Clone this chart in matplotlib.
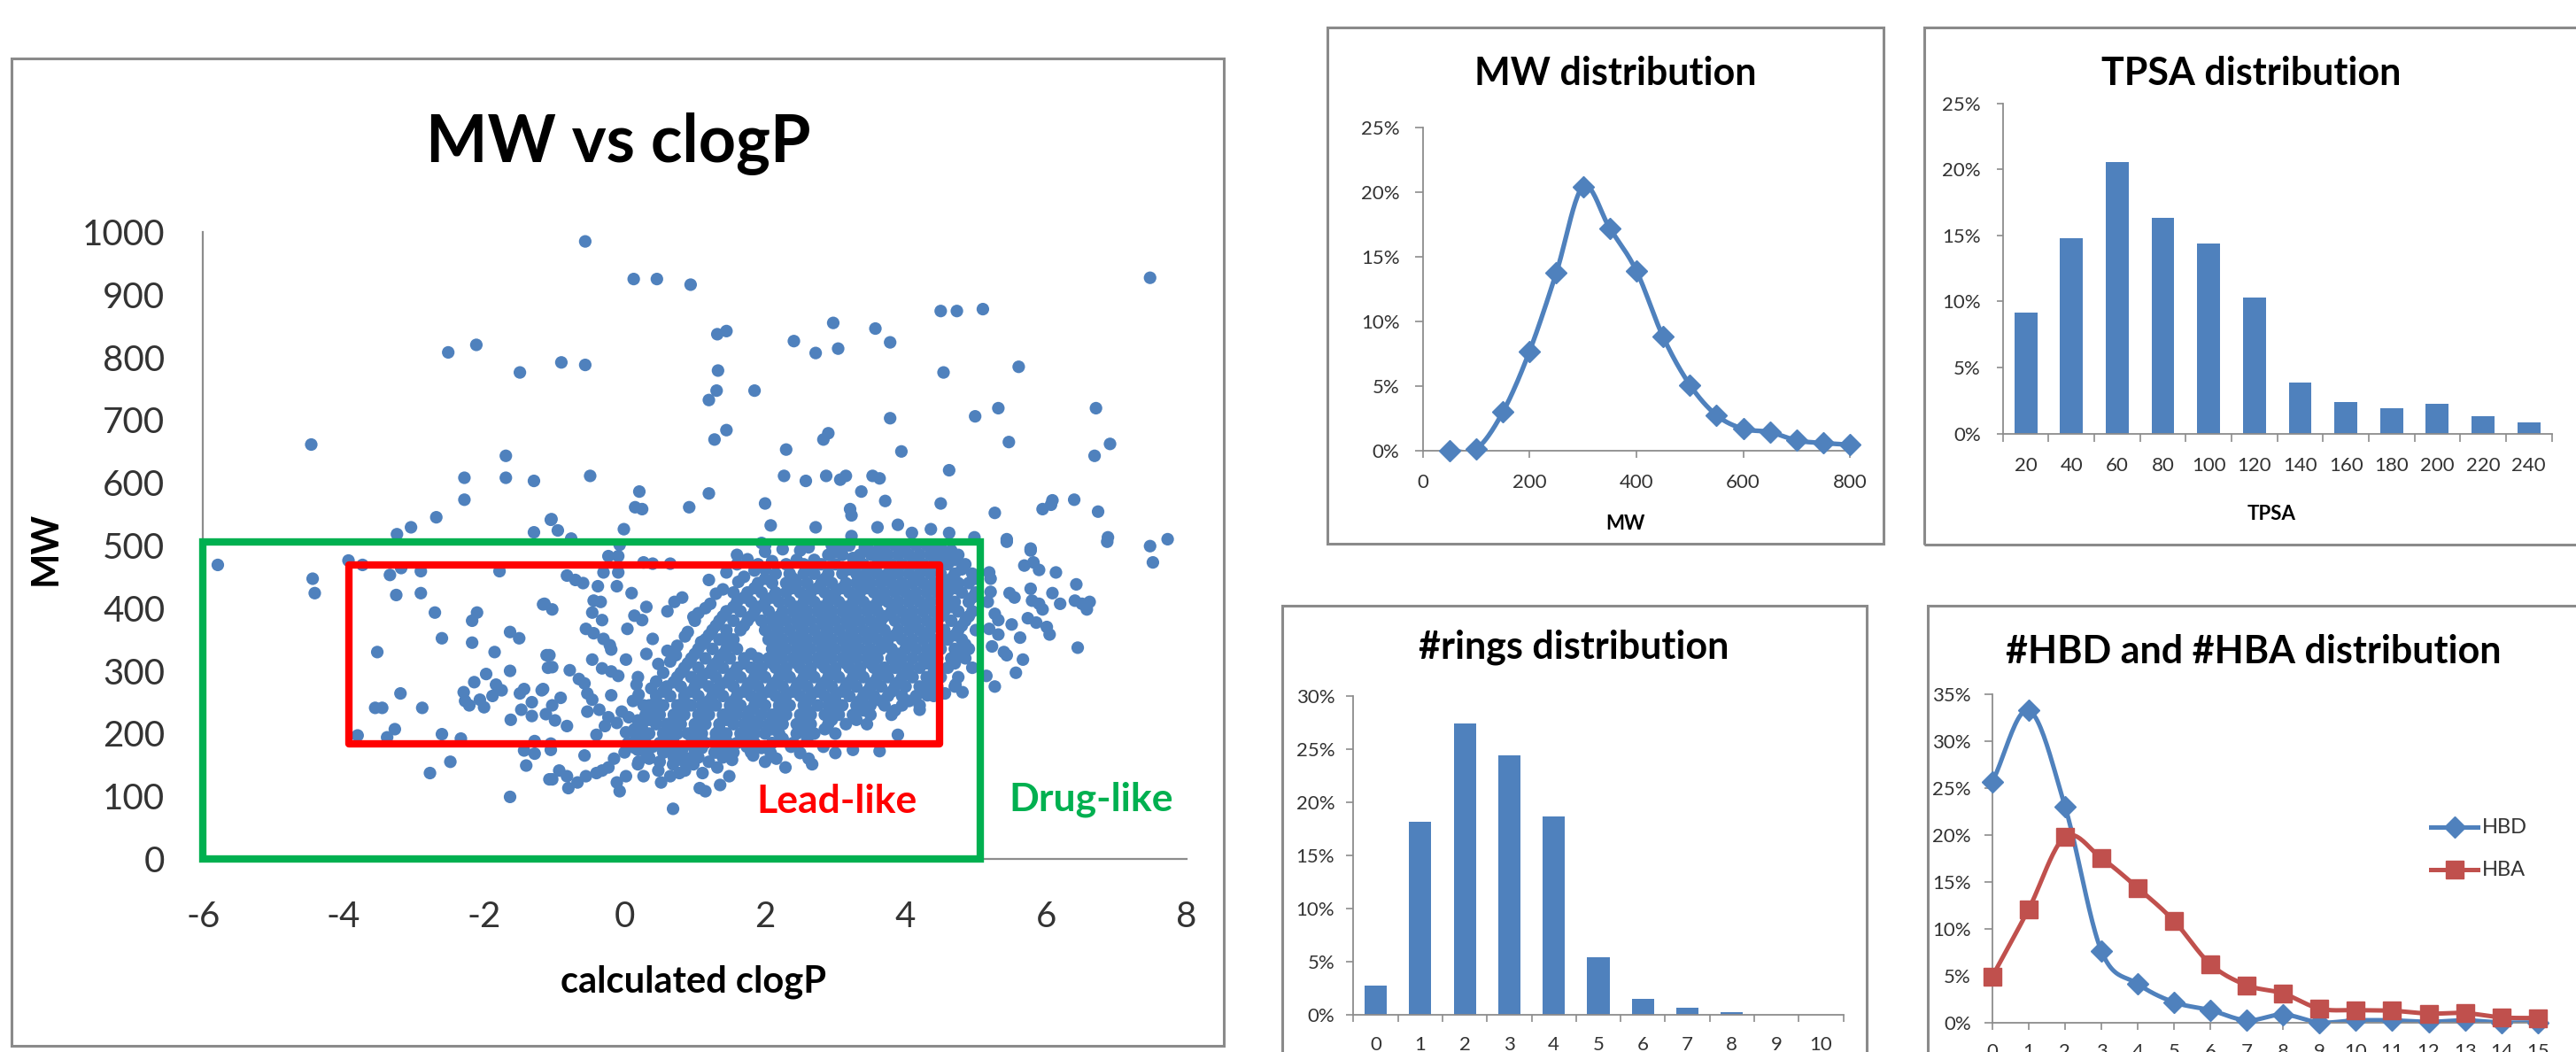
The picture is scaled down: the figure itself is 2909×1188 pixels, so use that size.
import numpy as np
import matplotlib
matplotlib.use('Agg')
import matplotlib.pyplot as plt
from matplotlib.patches import Rectangle
from matplotlib.lines import Line2D

plt.rcParams['font.family'] = ['Lato', 'DejaVu Sans']

# ------------------------------------------------------------------ data
mw_bins = [50, 100, 150, 200, 250, 300, 350, 400, 450, 500, 550, 600, 650, 700, 750, 800]
mw_pct = [0.0, 0.13, 3.0, 7.7, 13.75, 20.4, 17.2, 13.9, 8.8, 5.1, 2.75, 1.7, 1.45, 0.8, 0.6, 0.47]

tpsa_labels = ['20', '40', '60', '80', '100', '120', '140', '160', '180', '200', '220', '240']
tpsa_pct = [9.16, 14.76, 20.59, 16.32, 14.42, 10.32, 3.85, 2.39, 1.9, 2.23, 1.33, 0.82]

ring_labels = ['0', '1', '2', '3', '4', '5', '6', '7', '8', '9', '10']
ring_pct = [2.75, 18.15, 27.44, 24.46, 18.7, 5.45, 1.46, 0.63, 0.22, 0.0, 0.0]

hb_labels = ['0', '1', '2', '3', '4', '5', '6', '7', '8', '9', '10', '11', '12', '13', '14', '15']
hbd_pct = [25.64, 33.28, 23.05, 7.64, 4.12, 2.15, 1.31, 0.22, 0.84, 0.0, 0.22, 0.22, 0.06, 0.22, 0.0, 0.0]
hba_pct = [4.9, 12.07, 19.78, 17.53, 14.35, 10.82, 6.21, 3.96, 3.09, 1.47, 1.31, 1.25, 0.94, 1.0, 0.53, 0.47]

# scatter: (clogP, MW) pairs
high_mw_pts = [
    (-2.51, 808), (-2.11, 820), (-1.49, 776), (-4.46, 661), (-1.69, 643), (-2.28, 608), (-1.69, 608),
    (-1.29, 603), (-2.28, 573), (-2.68, 545), (-3.04, 529), (-3.24, 518), (-1.29, 521), (-1.05, 541),
    (-0.56, 985), (0.13, 925), (0.46, 925), (0.94, 916), (2.97, 855), (3.57, 846), (1.45, 842),
    (1.32, 837), (2.41, 826), (3.78, 824), (3.04, 814), (2.72, 807), (-0.9, 792), (-0.56, 788),
    (1.33, 779), (1.31, 747), (1.85, 747), (1.2, 732), (3.78, 703), (1.45, 684), (1.28, 669),
    (2.9, 679), (2.83, 669), (2.3, 653), (-0.49, 611), (2.27, 611), (2.58, 603), (2.87, 611),
    (3.07, 605), (3.15, 611), (3.53, 611), (3.63, 607), (3.37, 586), (3.71, 571), (0.21, 586),
    (0.15, 561), (0.25, 558), (0.92, 561), (1.2, 583), (2.0, 567), (3.21, 558), (3.23, 548),
    (-1.04, 542), (-0.95, 524), (-0.01, 526), (2.08, 532), (2.72, 529), (3.6, 529), (-0.76, 511),
    (3.23, 515), (7.48, 927), (4.5, 874), (4.73, 874), (5.1, 877), (4.54, 776), (5.61, 785),
    (5.32, 719), (4.99, 706), (6.71, 719), (5.47, 665), (6.91, 662), (6.69, 643), (3.94, 650),
    (4.62, 620), (4.5, 567), (5.27, 552), (5.95, 558), (6.07, 565), (6.09, 572), (6.4, 573),
    (6.74, 554), (3.89, 533), (4.09, 520), (4.36, 526), (4.62, 520), (5.44, 510), (6.88, 513),
    (7.73, 510), (7.48, 499), (5.78, 495), (4.98, 513),
]

left_pts = [
    (-5.79, 469), (-4.44, 447), (-4.41, 424), (-3.93, 476), (-3.73, 469), (-3.34, 453), (-3.18, 464),
    (-2.9, 459), (-1.78, 459), (-3.25, 421), (-2.9, 424), (-2.7, 393), (-2.1, 393), (-2.17, 380),
    (-2.6, 352), (-2.17, 345), (-1.63, 362), (-1.5, 352), (-1.85, 330), (-3.52, 330), (-1.16, 406),
    (-1.63, 300), (-1.97, 295), (-2.14, 282), (-1.83, 278), (-1.75, 269), (-2.29, 266), (-2.27, 252),
    (-2.21, 245), (-2.06, 254), (-2.0, 242), (-1.88, 260), (-3.19, 264), (-3.55, 241), (-3.45, 241),
    (-2.88, 241), (-1.49, 264), (-1.43, 271), (-1.18, 269), (-1.32, 250), (-1.47, 238), (-1.62, 222),
    (-1.32, 228), (-1.11, 325), (-1.09, 305), (-3.27, 207), (-3.38, 194), (-3.8, 197), (-2.6, 199),
    (-2.33, 192), (-1.28, 188), (-1.43, 173), (-1.28, 168), (-1.4, 149), (-2.48, 155), (-2.77, 137),
    (-1.63, 99), (-1.07, 127),
]

middle_pts = [
    (-0.82, 452), (-0.70, 445), (-0.59, 440), (-1.14, 407), (-1.03, 398), (-0.38, 435), (-0.44, 412),
    (-0.34, 410), (-0.46, 393), (-0.32, 381), (-0.23, 483), (-0.09, 483), (-0.30, 457), (-0.09, 457),
    (-0.11, 435), (0.10, 424), (-0.55, 367), (-0.44, 360), (-0.30, 351), (-0.21, 341), (-0.19, 334),
    (0.04, 367), (0.14, 388), (0.25, 381), (0.31, 402), (-1.07, 325), (-1.03, 306), (-0.46, 318),
    (-0.32, 304), (-0.19, 299), (-0.09, 292), (0.02, 318), (0.19, 290), (0.17, 278), (-0.78, 301),
    (-0.65, 287), (-0.57, 280), (-1.16, 271), (-1.03, 245), (-1.12, 231), (-0.99, 221), (-0.91, 257),
    (-0.53, 264), (-0.46, 254), (-0.53, 235), (-0.36, 238), (-0.19, 261), (-0.82, 212), (-0.40, 198),
    (-0.28, 212), (-0.23, 226), (-0.11, 217), (-0.04, 235), (0.06, 226), (0.19, 221), (0.14, 207),
    (0.02, 202), (0.27, 245), (-1.05, 184), (-1.05, 174), (-0.93, 141), (-1.03, 127), (-0.82, 132),
    (-0.80, 113), (-0.67, 122), (-0.55, 132), (-0.40, 137), (-0.32, 141), (-0.23, 146), (-0.15, 160),
    (-0.57, 165), (-0.11, 122), (-0.07, 108), (0.02, 132), (0.19, 151), (0.27, 132), (0.35, 160),
    (0.48, 141), (0.52, 122), (0.65, 132), (0.69, 151), (0.78, 137), (0.86, 141), (0.90, 160),
    (0.98, 151), (0.06, 179), (0.19, 174), (0.40, 179), (0.56, 170), (0.69, 184), (0.82, 174),
    (0.98, 179), (1.11, 184), (1.28, 170), (1.41, 170), (1.49, 184), (1.53, 158), (1.32, 146),
    (1.36, 118), (1.49, 132), (1.11, 137), (1.07, 113), (1.15, 108), (0.69, 80), (1.74, 179),
    (1.83, 165), (2.0, 155), (2.08, 169), (2.16, 160), (2.29, 146), (2.37, 179), (2.5, 169),
    (2.62, 160), (2.67, 151), (2.83, 179), (3.0, 169), (3.25, 174), (3.63, 172),
    (0.27, 473), (0.40, 471), (0.65, 471), (2.25, 494), (2.62, 497), (3.0, 490), (3.13, 499),
    (3.42, 497), (3.67, 490), (3.25, 480), (1.95, 504), (-0.07, 501), (2.92, 485), (3.51, 485),
    (1.6, 470), (1.85, 460), (2.1, 475), (1.45, 457), (1.70, 450), (1.2, 445), (0.82, 417),
    (0.71, 410), (0.61, 395), (0.98, 386), (1.22, 407), (0.86, 355), (1.09, 346), (0.40, 351),
    (0.31, 327), (0.61, 332), (0.73, 325), (0.48, 311), (0.65, 315),
]

# loose points along the upper-left edge of the dense core
edge_pts = [
    (1.0, 380), (1.15, 400), (1.4, 430), (1.75, 478), (0.55, 297), (0.45, 283), (0.9, 362),
    (1.3, 423), (1.62, 442), (0.12, 252), (0.38, 272), (2.0, 490), (0.75, 340), (1.05, 392),
    (0.2, 262), (1.55, 425), (1.9, 470),
]

right_pts = [
    (5.78, 492), (5.69, 468), (5.82, 473), (5.90, 461), (6.14, 457), (5.48, 424), (5.55, 417),
    (5.78, 431), (5.80, 412), (5.90, 407), (6.09, 424), (6.20, 407), (6.43, 438), (6.41, 412),
    (6.51, 407), (6.62, 410), (6.58, 398), (5.95, 398), (5.74, 384), (5.86, 377), (6.01, 370),
    (6.05, 358), (5.51, 374), (5.63, 353), (5.27, 391), (5.32, 381), (5.19, 367), (5.32, 358),
    (5.23, 339), (5.40, 330), (5.44, 325), (5.67, 318), (5.57, 297), (5.27, 275), (6.45, 337),
    (5.19, 457), (5.21, 447), (5.21, 426), (5.17, 410), (5.15, 292), (7.52, 473), (6.87, 506),
    (5.44, 506), (4.2, 238), (3.89, 198), (4.31, 261), (4.81, 266), (4.71, 278), (4.56, 264),
]

# dense core: MW row -> clogP values read along that row
core_rows = {
    500: [2.0, 2.95, 3.2, 3.45, 3.7, 3.85, 4.0, 4.15, 4.3, 4.5],
    485: [1.6, 2.9, 3.1, 3.35, 3.55, 3.75, 3.9, 4.05, 4.2, 4.35, 4.55, 4.75],
    470: [2.3, 2.55, 2.8, 3.0, 3.25, 3.4, 3.6, 3.8, 3.95, 4.1, 4.25, 4.4, 4.6, 4.85],
    455: [2.15, 2.35, 2.55, 2.7, 2.9, 3.1, 3.3, 3.45, 3.6, 3.75, 3.9, 4.05, 4.2, 4.35, 4.5, 4.7, 4.95],
    440: [1.9, 2.1, 2.3, 2.45, 2.6, 2.8, 2.95, 3.15, 3.3, 3.5, 3.65, 3.8, 3.95, 4.1, 4.25, 4.4, 4.55, 4.75, 4.9],
    425: [1.75, 1.95, 2.15, 2.3, 2.5, 2.65, 2.85, 3.0, 3.2, 3.35, 3.55, 3.7, 3.85, 4.0, 4.15, 4.3, 4.45, 4.6, 4.8, 5.0],
    410: [1.6, 1.8, 2.0, 2.2, 2.35, 2.55, 2.7, 2.9, 3.05, 3.25, 3.4, 3.6, 3.75, 3.9, 4.05, 4.2, 4.35, 4.5, 4.7, 4.9],
    395: [1.45, 1.65, 1.85, 2.05, 2.25, 2.4, 2.6, 2.75, 2.95, 3.1, 3.3, 3.45, 3.6, 3.8, 3.95, 4.1, 4.25, 4.4, 4.55, 4.75, 4.95],
    380: [1.35, 1.55, 1.75, 1.95, 2.1, 2.3, 2.45, 2.65, 2.8, 3.0, 3.15, 3.35, 3.5, 3.65, 3.85, 4.0, 4.15, 4.3, 4.45, 4.65, 4.85],
    365: [1.25, 1.45, 1.65, 2.0, 2.2, 2.35, 2.55, 2.7, 2.9, 3.05, 3.25, 3.4, 3.55, 3.7, 3.9, 4.05, 4.2, 4.35, 4.55, 4.75, 5.0],
    350: [1.15, 1.35, 1.55, 2.05, 2.25, 2.4, 2.6, 2.75, 2.95, 3.1, 3.3, 3.45, 3.6, 3.75, 3.95, 4.1, 4.25, 4.4, 4.6, 4.8],
    335: [1.05, 1.25, 1.45, 1.6, 2.1, 2.3, 2.45, 2.65, 2.8, 3.0, 3.15, 3.35, 3.5, 3.65, 3.8, 4.0, 4.15, 4.3, 4.5, 4.7, 4.9],
    320: [0.95, 1.15, 1.35, 1.5, 1.7, 1.9, 2.05, 2.25, 2.4, 2.6, 2.75, 2.95, 3.1, 3.3, 3.45, 3.6, 3.8, 3.95, 4.1, 4.25, 4.45, 4.65, 4.85],
    305: [0.85, 1.05, 1.25, 1.4, 1.6, 1.8, 1.95, 2.15, 2.3, 2.5, 2.65, 2.85, 3.0, 3.2, 3.35, 3.55, 3.7, 3.85, 4.05, 4.2, 4.4, 4.6, 4.95],
    290: [0.75, 0.95, 1.1, 1.3, 1.5, 1.65, 1.85, 2.0, 2.2, 2.35, 2.55, 2.7, 2.9, 3.05, 3.25, 3.4, 3.6, 3.75, 3.95, 4.1, 4.3, 4.5, 4.75],
    275: [0.6, 0.8, 1.0, 1.2, 1.35, 1.55, 1.75, 1.9, 2.1, 2.25, 2.45, 2.6, 2.8, 2.95, 3.15, 3.3, 3.5, 3.65, 3.85, 4.0, 4.2, 4.45, 4.7],
    260: [0.45, 0.65, 0.85, 1.05, 1.25, 1.4, 1.6, 1.8, 1.95, 2.15, 2.3, 2.5, 2.65, 2.85, 3.0, 3.2, 3.4, 3.55, 3.75, 3.95, 4.15, 4.4],
    245: [0.35, 0.55, 0.75, 0.95, 1.1, 1.3, 1.5, 1.65, 1.85, 2.0, 2.2, 2.35, 2.55, 2.75, 2.9, 3.1, 3.3, 3.5, 3.7, 3.95, 4.2],
    230: [0.3, 0.5, 0.7, 0.85, 1.05, 1.2, 1.4, 1.6, 1.75, 1.95, 2.1, 2.3, 2.5, 2.65, 2.85, 3.05, 3.25, 3.5, 3.8],
    215: [0.25, 0.45, 0.6, 0.8, 1.0, 1.15, 1.35, 1.55, 1.7, 1.9, 2.05, 2.25, 2.45, 2.65, 2.9, 3.15, 3.45],
    200: [0.15, 0.35, 0.55, 0.75, 0.9, 1.1, 1.3, 1.45, 1.65, 1.85, 2.0, 2.2, 2.45, 2.7, 3.0],
    185: [0.05, 0.3, 0.5, 0.7, 0.95, 1.15, 1.4, 1.6, 1.85, 2.1, 2.4],
    170: [0.0, 0.3, 0.55, 0.8, 1.0, 1.3, 1.55, 1.8],
    155: [0.2, 0.5, 0.85, 1.2],
}

# dense core, in-between rows
core_rows_mid = {
    492: [2.5, 3.05, 3.6, 3.95, 4.4, 4.65],
    477: [2.45, 2.7, 3.3, 3.7, 4.15, 4.5, 4.7],
    462: [2.0, 2.6, 3.2, 3.55, 3.85, 4.3, 4.8],
    447: [2.0, 2.4, 2.85, 3.4, 3.75, 4.15, 4.65, 5.0],
    432: [1.85, 2.4, 2.75, 3.1, 3.45, 3.95, 4.35, 4.7],
    417: [1.7, 2.1, 2.6, 2.95, 3.3, 3.65, 4.1, 4.55, 4.95],
    402: [1.55, 1.9, 2.45, 2.8, 3.15, 3.5, 3.85, 4.3, 4.65],
    387: [1.4, 1.8, 2.2, 2.55, 2.9, 3.25, 3.7, 4.05, 4.5, 4.9],
    372: [1.3, 1.7, 2.15, 2.5, 2.85, 3.2, 3.6, 4.1, 4.4, 4.8],
    357: [1.2, 1.45, 2.15, 2.5, 2.85, 3.2, 3.5, 3.85, 4.3, 4.7],
    342: [1.1, 1.5, 2.2, 2.55, 2.9, 3.25, 3.7, 4.05, 4.45, 4.85],
    327: [1.0, 1.4, 1.8, 2.15, 2.5, 2.9, 3.25, 3.55, 3.9, 4.35, 4.75],
    312: [0.9, 1.3, 1.7, 2.1, 2.45, 2.8, 3.15, 3.5, 3.9, 4.3, 4.7],
    297: [0.8, 1.2, 1.55, 1.9, 2.3, 2.65, 3.0, 3.35, 3.7, 4.0, 4.4],
    282: [0.7, 1.1, 1.45, 1.8, 2.15, 2.5, 2.85, 3.2, 3.55, 3.9, 4.35],
    267: [0.55, 0.95, 1.3, 1.7, 2.05, 2.4, 2.75, 3.1, 3.45, 3.8, 4.3],
    252: [0.45, 0.85, 1.2, 1.55, 1.9, 2.25, 2.6, 3.0, 3.35, 3.65, 4.05],
    237: [0.4, 0.8, 1.15, 1.5, 1.8, 2.2, 2.6, 2.95, 3.4, 3.85],
    222: [0.35, 0.7, 1.1, 1.45, 1.8, 2.15, 2.55, 2.95, 3.3],
    207: [0.25, 0.65, 1.0, 1.35, 1.75, 2.1, 2.55, 2.85],
    192: [0.2, 0.6, 1.0, 1.3, 1.75, 2.25, 2.6],
    177: [0.15, 0.65, 1.1, 1.45, 1.95],
    162: [0.35, 0.7, 1.05, 1.4],
}

drug_box = (-6.0, 0.0, 5.06, 505.0)      # clogP min, MW min, clogP max, MW max
lead_box = (-3.93, 183.0, 4.48, 468.5)

# ------------------------------------------------------------------ styles
BLUE = '#4F81BD'
RED = '#C0504D'
AXC = '#8C8C8C'
TXT = '#333333'
W, H = 2909, 1188
TICK_FS = 16

fig = plt.figure(figsize=(W / 100, H / 100), dpi=100)
fig.patch.set_facecolor('white')


def px_axes(L, T, R, B):
    return fig.add_axes([L / W, 1 - B / H, (R - L) / W, (B - T) / H])


def frame(L, T, R, B):
    fig.add_artist(Rectangle((L / W, 1 - B / H), (R - L) / W, (B - T) / H,
                             transform=fig.transFigure, fill=False, ec='#8A8A8A', lw=2.2))


def ftext(x, y, s, **kw):
    fig.text(x / W, 1 - y / H, s, **kw)


def style_axes(ax):
    for sp in ('top', 'right'):
        ax.spines[sp].set_visible(False)
    for sp in ('left', 'bottom'):
        ax.spines[sp].set_color(AXC)
        ax.spines[sp].set_linewidth(1.3)
    ax.set_facecolor('none')


def smooth(x, y, n=24):
    pts = np.column_stack([np.asarray(x, float), np.asarray(y, float)])
    P = np.vstack([2 * pts[0] - pts[1], pts, 2 * pts[-1] - pts[-2]])
    out = []
    t = np.linspace(0, 1, n, endpoint=False)[:, None]
    for i in range(1, len(P) - 2):
        p0, p1, p2, p3 = P[i - 1], P[i], P[i + 1], P[i + 2]
        seg = 0.5 * (2 * p1 + (-p0 + p2) * t + (2 * p0 - 5 * p1 + 4 * p2 - p3) * t ** 2
                     + (-p0 + 3 * p1 - 3 * p2 + p3) * t ** 3)
        out.append(seg)
    out.append(pts[-1:])
    s = np.vstack(out)
    return s[:, 0], s[:, 1]


def pct_yaxis(ax, top, pad_pt, tick_px):
    ax.set_ylim(0, top)
    ticks = list(range(0, top + 1, 5))
    ax.set_yticks(ticks)
    ax.set_yticklabels([f'{v}%' for v in ticks])
    ax.tick_params(axis='y', direction='out', length=tick_px * 0.72, width=1.2, color=AXC,
                   pad=pad_pt, labelsize=TICK_FS, labelcolor=TXT)


# ------------------------------------------------------------------ frames
frame(13.4, 66, 1382, 1180.6)
frame(1498.7, 30.7, 2127.3, 614.3)
frame(2173.4, 30.7, 2960, 615)
frame(1448, 684.3, 2108.3, 1240)
frame(2176.7, 683.9, 2960, 1240)

# ------------------------------------------------------------------ scatter
ax = px_axes(229.3, 262, 1340, 970)
style_axes(ax)
ax.spines['left'].set_linewidth(1.6)
ax.spines['bottom'].set_linewidth(1.6)
pts = high_mw_pts + left_pts + middle_pts + edge_pts + right_pts
for rows in (core_rows, core_rows_mid):
    for mw_val, xs in rows.items():
        pts += [(xv, mw_val) for xv in xs]
pts = np.array(pts)
ax.scatter(pts[:, 0], pts[:, 1], s=105, color=BLUE, edgecolors='none', zorder=2, clip_on=False)
ax.set_xlim(-6, 8)
ax.set_ylim(0, 1000)
ax.set_xticks([-6, -4, -2, 0, 2, 4, 6, 8])
ax.set_xticklabels(['-6', '-4', '-2', '0', '2', '4', '6', '8'])
ax.set_yticks(list(range(0, 1001, 100)))
ax.tick_params(axis='both', length=0, labelsize=29, labelcolor=TXT)
ax.tick_params(axis='y', pad=31)
ax.tick_params(axis='x', pad=34)
ax.add_patch(Rectangle((drug_box[0], drug_box[1]), drug_box[2] - drug_box[0], drug_box[3] - drug_box[1],
                       fill=False, ec='#00B050', lw=6, zorder=4, clip_on=False, joinstyle='miter'))
ax.add_patch(Rectangle((lead_box[0], lead_box[1]), lead_box[2] - lead_box[0], lead_box[3] - lead_box[1],
                       fill=False, ec='#FF0000', lw=6, zorder=5, clip_on=False, joinstyle='round'))
ax.text(3.02, 73, 'Lead-like', color='#FF0000', fontsize=32, fontweight='bold', ha='center',
        va='baseline', zorder=6)
ax.text(6.64, 77, 'Drug-like', color='#00B050', fontsize=32, fontweight='bold', ha='center',
        va='baseline', zorder=6, clip_on=False)
ftext(697.8, 182.8, 'MW vs clogP', fontsize=53, fontweight='bold', ha='center', va='baseline', color='black')
ftext(783, 1120, 'calculated clogP', fontsize=30, fontweight='bold', ha='center', va='baseline', color='black')
ftext(51.8, 619.7, 'MW', fontsize=30, fontweight='bold', ha='center', va='center', rotation=90, color='black')

# ------------------------------------------------------------------ MW distribution
ax1 = px_axes(1606.7, 143.6, 2089.2, 509.1)
style_axes(ax1)
sx, sy = smooth(mw_bins, mw_pct)
ax1.plot(sx, sy, color=BLUE, lw=3.8, zorder=2, solid_capstyle='round')
ax1.plot(mw_bins, mw_pct, ls='none', marker='D', ms=12, color=BLUE, zorder=3, clip_on=False)
ax1.set_xlim(0, 800)
ax1.set_xticks([0, 200, 400, 600, 800])
ax1.tick_params(axis='x', direction='out', length=7.6 * 0.72, width=1.2, color=AXC, pad=13,
                labelsize=TICK_FS, labelcolor=TXT)
pct_yaxis(ax1, 25, 12.5, 9)
ftext(1823.9, 96.5, 'MW distribution', fontsize=31, fontweight='bold', ha='center', va='baseline')
ftext(1835.8, 598, 'MW', fontsize=16, fontweight='bold', ha='center', va='baseline')

# ------------------------------------------------------------------ TPSA distribution
ax2 = px_axes(2261.8, 116.8, 2881.5, 489.6)
style_axes(ax2)
xpos = np.arange(len(tpsa_labels))
ax2.bar(xpos, tpsa_pct, width=0.5, color=BLUE, zorder=2)
ax2.set_xlim(-0.5, len(tpsa_labels) - 0.5)
ax2.set_xticks(xpos)
ax2.set_xticklabels(tpsa_labels)
ax2.set_xticks(np.arange(len(tpsa_labels) + 1) - 0.5, minor=True)
ax2.tick_params(axis='x', which='major', length=0, pad=19, labelsize=TICK_FS, labelcolor=TXT)
ax2.tick_params(axis='x', which='minor', direction='out', length=8.8 * 0.72, width=1.2, color=AXC)
pct_yaxis(ax2, 25, 13, 7)
ftext(2542, 96.5, 'TPSA distribution', fontsize=31, fontweight='bold', ha='center', va='baseline')
ftext(2565, 587, 'TPSA', fontsize=16, fontweight='bold', ha='center', va='baseline')

# ------------------------------------------------------------------ rings distribution
ax3 = px_axes(1528.4, 786.3, 2081.5, 1146)
style_axes(ax3)
rpos = np.arange(len(ring_labels))
ax3.bar(rpos, ring_pct, width=0.5, color=BLUE, zorder=2)
ax3.set_xlim(-0.5, len(ring_labels) - 0.5)
ax3.set_xticks(rpos)
ax3.set_xticklabels(ring_labels)
ax3.set_xticks(np.arange(len(ring_labels) + 1) - 0.5, minor=True)
ax3.tick_params(axis='x', which='major', length=0, pad=17, labelsize=TICK_FS, labelcolor=TXT)
ax3.tick_params(axis='x', which='minor', direction='out', length=8 * 0.72, width=1.2, color=AXC)
pct_yaxis(ax3, 30, 9.5, 8)
ftext(1777.5, 743.3, '#rings distribution', fontsize=31, fontweight='bold', ha='center', va='baseline')

# ------------------------------------------------------------------ HBD / HBA distribution
ax4 = px_axes(2249.8, 784, 2865.7, 1154.6)
style_axes(ax4)
hpos = np.arange(len(hb_labels))
bx, by = smooth(hpos, hbd_pct)
ax4.plot(bx, by, color=BLUE, lw=3.6, zorder=2)
ax4.plot(hpos, hbd_pct, ls='none', marker='D', ms=12, color=BLUE, zorder=3, clip_on=False)
ax_, ay_ = smooth(hpos, hba_pct)
ax4.plot(ax_, ay_, color=RED, lw=3.6, zorder=4)
ax4.plot(hpos, hba_pct, ls='none', marker='s', ms=14, color=RED, zorder=5, clip_on=False)
ax4.set_xlim(0, len(hb_labels) - 1)
ax4.set_xticks(hpos)
ax4.set_xticklabels(hb_labels)
ax4.tick_params(axis='x', direction='out', length=8.3 * 0.72, width=1.2, color=AXC, pad=11,
                labelsize=TICK_FS, labelcolor=TXT)
pct_yaxis(ax4, 35, 11, 8.6)
ftext(2544.6, 749.3, '#HBD and #HBA distribution', fontsize=31, fontweight='bold', ha='center', va='baseline')

# legend (drawn in figure pixels)
for (yc, col, mk, ms, lab) in [(934.3, BLUE, 'D', 12, 'HBD'), (982.2, RED, 's', 14, 'HBA')]:
    fig.add_artist(Line2D([2745 / W, 2798 / W], [1 - yc / H, 1 - yc / H], color=col, lw=3.6,
                          transform=fig.transFigure))
    fig.add_artist(Line2D([2771.5 / W], [1 - yc / H], color=col, marker=mk, ms=ms, ls='none',
                          transform=fig.transFigure))
    ftext(2802.6, yc, lab, fontsize=17, ha='left', va='center', color=TXT)

fig.savefig('out.png', dpi=100, facecolor='white')
